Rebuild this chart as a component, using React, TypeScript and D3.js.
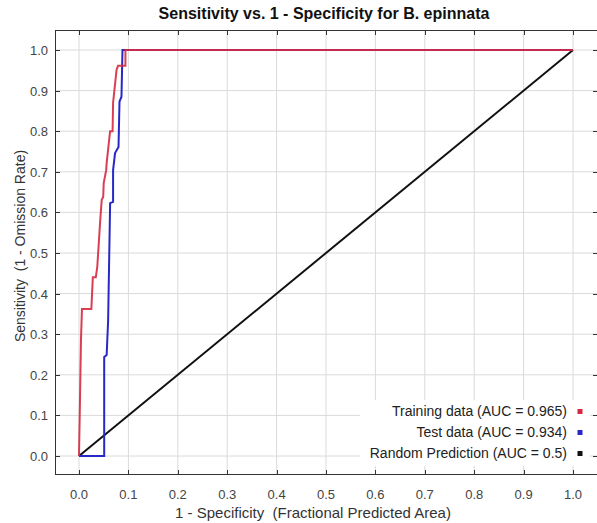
import React from "react";
import * as d3 from "d3";

const title = "Sensitivity vs. 1 - Specificity for B. epinnata";
const xLabel = "1 - Specificity  (Fractional Predicted Area)";
const yLabel = "Sensitivity  (1 - Omission Rate)";
const ticks = [0, 0.1, 0.2, 0.3, 0.4, 0.5, 0.6, 0.7, 0.8, 0.9, 1.0];

// Training curve (fpr, tpr)
const trainFpr = [0, 0.002, 0.004, 0.006, 0.025, 0.028, 0.034, 0.037, 0.043, 0.046, 0.049, 0.05, 0.055, 0.056, 0.061, 0.063, 0.068, 0.069, 0.076, 0.079, 0.094, 0.094, 1.0];
const trainTpr = [0, 0.138, 0.286, 0.362, 0.362, 0.44, 0.44, 0.466, 0.581, 0.631, 0.638, 0.672, 0.704, 0.722, 0.778, 0.8, 0.8, 0.87, 0.951, 0.961, 0.961, 1.0, 1.0];
// Test curve
const testFpr = [0, 0.051, 0.051, 0.056, 0.059, 0.063, 0.069, 0.069, 0.073, 0.08, 0.082, 0.086, 0.088, 1.0];
const testTpr = [0, 0, 0.244, 0.249, 0.335, 0.623, 0.626, 0.704, 0.746, 0.761, 0.873, 0.885, 1.0, 1.0];
// Random
const randFpr = [0, 1];
const randTpr = [0, 1];

const legendItems = ["Training data (AUC = 0.965)", "Test data (AUC = 0.934)", "Random Prediction (AUC = 0.5)"];
const colors = ["#d42a40", "#2828c8", "#111111"];

export default function App() {
  const W = 597, H = 523;
  const left = 55, top = 30, right = 601, bottom = 474;
  const x = d3.scaleLinear().domain([0, 1]).range([79, 573]);
  const y = d3.scaleLinear().domain([0, 1]).range([456, 50]);
  const line = d3.line<[number, number]>().x(d => x(d[0])).y(d => y(d[1]));
  const mk = (a: number[], b: number[]) => a.map((v, i) => [v, b[i]] as [number, number]);
  const font = "'Liberation Sans', Arial, sans-serif";
  const tickColor = "#333";
  return (
    <svg width={W} height={H} style={{ position: "absolute", left: 0, top: 0, background: "#fff" }} fontFamily={font}>
      <rect x={0} y={0} width={W} height={H} fill="#fff" />
      <text x={324} y={19} textAnchor="middle" fontSize={16} fontWeight="bold" fill="#111">{title}</text>
      {/* grid */}
      {ticks.map((t, i) => (
        <g key={"g" + i}>
          <line x1={x(t)} x2={x(t)} y1={top} y2={bottom} stroke="#dadada" strokeWidth={1} />
          <line x1={left} x2={right} y1={y(t)} y2={y(t)} stroke="#dadada" strokeWidth={1} />
        </g>
      ))}
      {/* legend background */}
      <rect x={360} y={400} width={230} height={66} fill="#fff" />
      {/* frame */}
      <rect x={left + 0.5} y={top + 0.5} width={right - left} height={bottom - top} fill="none" stroke="#333" strokeWidth={1} />
      {ticks.map((t, i) => (
        <g key={"t" + i} stroke={tickColor} strokeWidth={1}>
          <line x1={Math.round(x(t)) + 0.5} x2={Math.round(x(t)) + 0.5} y1={bottom} y2={bottom - 4} />
          <line x1={Math.round(x(t)) + 0.5} x2={Math.round(x(t)) + 0.5} y1={top} y2={top + 5} />
          <line x1={left} x2={left + 5} y1={Math.round(y(t)) + 0.5} y2={Math.round(y(t)) + 0.5} />
          <line x1={right} x2={right - 8} y1={Math.round(y(t)) + 0.5} y2={Math.round(y(t)) + 0.5} />
        </g>
      ))}
      {ticks.map((t, i) => (
        <text key={"xl" + i} x={x(t)} y={499} textAnchor="middle" fontSize={13} fill="#444">{t.toFixed(1)}</text>
      ))}
      {ticks.map((t, i) => (
        <text key={"yl" + i} x={48} y={y(t) + 5} textAnchor="end" fontSize={13} fill="#444">{t.toFixed(1)}</text>
      ))}
      <text x={313} y={518} textAnchor="middle" fontSize={15} fill="#333" style={{ whiteSpace: "pre" }}>{xLabel}</text>
      <text transform={`translate(25,246) rotate(-90)`} textAnchor="middle" fontSize={14} fill="#333" style={{ whiteSpace: "pre" }}>{yLabel}</text>
      {/* curves */}
      <path d={line(mk(randFpr, randTpr)) || ""} fill="none" stroke={colors[2]} strokeWidth={2} />
      <path d={line(mk(testFpr, testTpr)) || ""} fill="none" stroke={colors[1]} strokeWidth={2} />
      <path d={line(mk(trainFpr, trainTpr)) || ""} fill="none" stroke={colors[0]} strokeWidth={2} strokeOpacity={0.9} />
      {/* legend */}
      {legendItems.map((s, i) => (
        <g key={"lg" + i}>
          <text x={567} y={416 + i * 21} textAnchor="end" fontSize={14} fill="#222">{s}</text>
          <rect x={577.5} y={409 + i * 21} width={5} height={5} fill={colors[i]} />
        </g>
      ))}
    </svg>
  );
}
